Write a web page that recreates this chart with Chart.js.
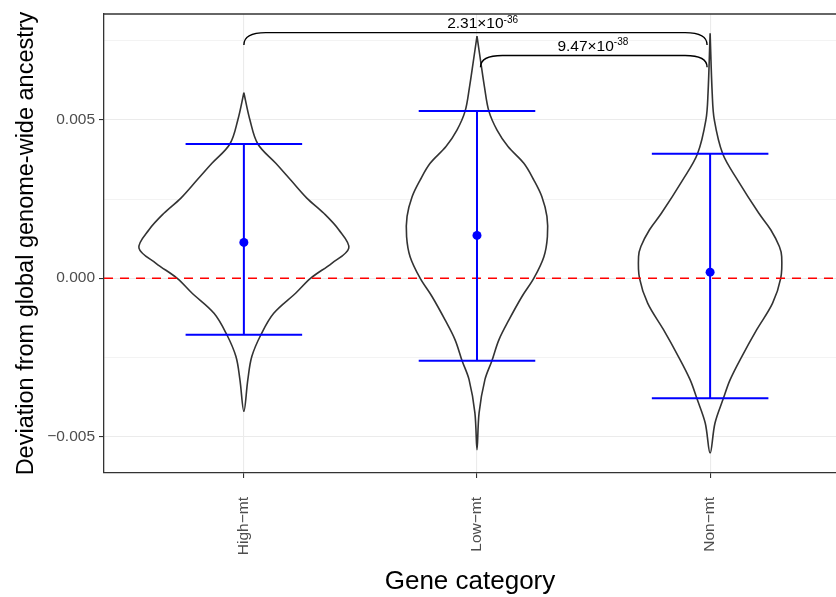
<!DOCTYPE html>
<html><head><meta charset="utf-8">
<script src="https://cdn.jsdelivr.net/npm/chart.js@4"></script>
<style>html,body{margin:0;padding:0;background:#fff;overflow:hidden;}canvas{display:block;}</style>
</head><body>
<canvas id="c" width="836" height="597"></canvas>
<script>
// ---------- data ----------
const categories = ['High\u2212mt', 'Low\u2212mt', 'Non\u2212mt'];
const meanValues  = [0.00113, 0.00135, 0.00019];
const lowerValues = [-0.00179, -0.00261, -0.00380];
const upperValues = [0.00424, 0.00528, 0.00393];

// violin outlines: y value and half-width (in category units)
const highViolinY = [0.00586,0.00500,0.00424,0.00363,0.00310,0.00253,0.00205,0.00153,0.00095,0.00047,0,-0.00047,-0.00111,-0.00179,-0.00248,-0.00321,-0.00421];
const highViolinW = [0,0.026,0.060,0.137,0.201,0.270,0.343,0.407,0.450,0.377,0.287,0.223,0.128,0.073,0.034,0.017,0];
const lowViolinY  = [0.00765,0.00679,0.00605,0.00528,0.00468,0.00416,0.00363,0.00310,0.00258,0.00195,0.00131,0.00068,0,-0.00058,-0.00132,-0.00195,-0.00261,-0.00321,-0.00426,-0.00542];
const lowViolinW  = [0,0.017,0.032,0.051,0.086,0.133,0.201,0.244,0.278,0.300,0.302,0.287,0.244,0.193,0.137,0.094,0.064,0.034,0.009,0];
const nonViolinY  = [0.00774,0.00584,0.00500,0.00393,0.00310,0.00205,0.00153,0.00100,0.00068,0,-0.00079,-0.00163,-0.00248,-0.00321,-0.00380,-0.00458,-0.00553];
const nonViolinW  = [0,0.009,0.018,0.054,0.118,0.209,0.260,0.297,0.307,0.303,0.268,0.200,0.136,0.086,0.057,0.021,0];

// significance brackets
const bracketFrom = [1, 2.015];
const bracketTo   = [2.987, 2.987];
const bracketY    = [0.00776, 0.00704];
const bracketTipY = [0.00737, 0.00667];
const bracketLabelX = [2.024, 2.497];
const bracketMantissa = ['2.31\u00d710', '9.47\u00d710'];
const bracketExponent = ['-36', '-38'];

// axis ticks
const yMajorTicks = [-0.005, 0, 0.005];
const yMajorLabels = ['\u22120.005', '0.000', '0.005'];
const yMinorTicks = [-0.0025, 0.0025, 0.0075];
const referenceLine = 0;

// ---------- build chart ----------
const xMin = 0.4, xMax = 3.54, yMin = -0.00616, yMax = 0.00835;
const capHalf = 0.25;
const FONT = '"Liberation Sans", Arial, Helvetica, sans-serif';

function violinPoints(center, ys, ws) {
  const pts = [];
  for (let i = 0; i < ys.length; i++) pts.push({x: center + ws[i], y: ys[i]});
  for (let i = ys.length - 2; i >= 0; i--) pts.push({x: center - ws[i], y: ys[i]});
  return pts;
}
const violins = [[highViolinY, highViolinW], [lowViolinY, lowViolinW], [nonViolinY, nonViolinW]];

const datasets = [];
violins.forEach(([ys, ws], i) => {
  datasets.push({
    data: violinPoints(i + 1, ys, ws), showLine: true, fill: 'shape',
    backgroundColor: '#ffffff', borderColor: '#333333', borderWidth: 1.6,
    tension: 0.35, pointRadius: 0, order: 3
  });
});
datasets.push({
  data: [{x: xMin, y: referenceLine}, {x: xMax, y: referenceLine}], showLine: true,
  borderColor: '#ff0000', borderWidth: 1.5, borderDash: [9, 7], pointRadius: 0, fill: false, order: 2
});
categories.forEach((c, i) => {
  const cx = i + 1, hi = upperValues[i], lo = lowerValues[i];
  datasets.push({
    data: [{x: cx - capHalf, y: hi}, {x: cx + capHalf, y: hi}, {x: cx, y: null},
           {x: cx, y: hi}, {x: cx, y: lo}, {x: cx, y: null},
           {x: cx - capHalf, y: lo}, {x: cx + capHalf, y: lo}],
    showLine: true, spanGaps: false, borderColor: '#0000ff', borderWidth: 2,
    pointRadius: 0, fill: false, tension: 0, order: 1
  });
});
datasets.push({
  data: meanValues.map((m, i) => ({x: i + 1, y: m})), showLine: false,
  pointRadius: 4.5, pointBackgroundColor: '#0000ff', pointBorderWidth: 0, order: 0
});

const isMajor = v => yMajorTicks.some(t => Math.abs(t - v) < 1e-9);

const decor = {
  id: 'decor',
  afterDatasetsDraw(chart) {
    const {ctx, chartArea: a} = chart;
    const xs = chart.scales.x, ys = chart.scales.y;
    ctx.save();
    ctx.strokeStyle = '#333333'; ctx.lineWidth = 1.3;
    ctx.beginPath(); ctx.moveTo(a.left, a.top); ctx.lineTo(a.right, a.top); ctx.stroke();
    ctx.strokeStyle = '#000000'; ctx.lineWidth = 1.4;
    for (let i = 0; i < bracketFrom.length; i++) {
      const x0 = xs.getPixelForValue(bracketFrom[i]), x1 = xs.getPixelForValue(bracketTo[i]);
      const yt = ys.getPixelForValue(bracketY[i]), yb = ys.getPixelForValue(bracketTipY[i]);
      const r = 22;
      ctx.beginPath();
      ctx.moveTo(x0, yb); ctx.quadraticCurveTo(x0, yt, x0 + r, yt);
      ctx.lineTo(x1 - r, yt); ctx.quadraticCurveTo(x1, yt, x1, yb);
      ctx.stroke();
      ctx.fillStyle = '#000000'; ctx.textBaseline = 'alphabetic'; ctx.textAlign = 'left';
      const mainFont = '15.5px ' + FONT, supFont = '10px ' + FONT;
      ctx.font = mainFont; const w1 = ctx.measureText(bracketMantissa[i]).width;
      ctx.font = supFont; const w2 = ctx.measureText(bracketExponent[i]).width;
      const sx = xs.getPixelForValue(bracketLabelX[i]) - (w1 + w2) / 2, by = yt - 4.5;
      ctx.font = mainFont; ctx.fillText(bracketMantissa[i], sx, by);
      ctx.font = supFont; ctx.fillText(bracketExponent[i], sx + w1, by - 5.5);
    }
    ctx.restore();
  }
};

new Chart(document.getElementById('c'), {
  type: 'scatter',
  data: {datasets},
  options: {
    responsive: false, animation: false, devicePixelRatio: 1,
    layout: {autoPadding: false, padding: {top: 14, right: 0, left: 0, bottom: 0}},
    plugins: {legend: {display: false}, tooltip: {enabled: false}},
    scales: {
      x: {
        type: 'linear', min: xMin, max: xMax,
        afterBuildTicks: s => { s.ticks = categories.map((c, i) => ({value: i + 1})); },
        afterFit: s => { s.height = 124; s.paddingLeft = 0; s.paddingRight = 0; },
        ticks: {
          callback: v => categories[Math.round(v) - 1],
          minRotation: 90, maxRotation: 90, padding: 19, autoSkip: false,
          color: '#4d4d4d', font: {family: FONT, size: 15.5}
        },
        grid: {color: '#ebebeb', lineWidth: 1.1, tickColor: '#333333', tickLength: 5},
        border: {display: true, color: '#333333', width: 1.3},
        title: {display: true, text: 'Gene category', color: '#000000',
                font: {family: FONT, size: 26}, padding: {top: 0, bottom: 0}}
      },
      y: {
        type: 'linear', min: yMin, max: yMax,
        afterBuildTicks: s => {
          s.ticks = yMajorTicks.concat(yMinorTicks).sort((a, b) => a - b).map(v => ({value: v}));
        },
        afterFit: s => { s.width = 104; s.paddingTop = 0; s.paddingBottom = 0; },
        ticks: {
          autoSkip: false, padding: 4, color: '#4d4d4d', font: {family: FONT, size: 15.5},
          callback: v => { const k = yMajorTicks.findIndex(t => Math.abs(t - v) < 1e-9); return k >= 0 ? yMajorLabels[k] : ''; }
        },
        grid: {
          color: '#ebebeb',
          lineWidth: c => (c.tick && isMajor(c.tick.value)) ? 1.1 : 0.6,
          tickColor: c => (c.tick && isMajor(c.tick.value)) ? '#333333' : 'rgba(0,0,0,0)',
          tickLength: 5
        },
        border: {display: true, color: '#333333', width: 1.3},
        title: {display: true, text: 'Deviation from global genome-wide ancestry', color: '#000000',
                font: {family: FONT, size: 23.5}, padding: {top: 12, bottom: 0}}
      }
    }
  },
  plugins: [decor]
});
</script>
</body></html>
